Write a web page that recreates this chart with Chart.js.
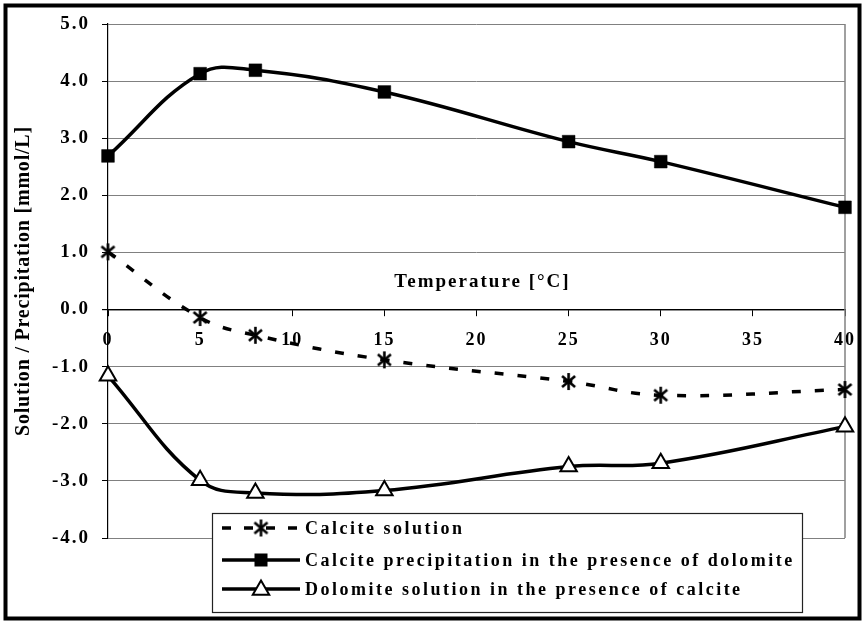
<!DOCTYPE html>
<html>
<head>
<meta charset="utf-8">
<script src="https://cdn.jsdelivr.net/npm/chart.js@4.4.1/dist/chart.umd.min.js"></script>
<style>
  html, body { margin: 0; padding: 0; background: #fff; }
  #wrap { width: 864px; height: 624px; }
</style>
</head>
<body>
<div id="wrap"><canvas id="chart" width="864" height="624"></canvas></div>
<script>
// Temperatures (°C) and the three measured series (mmol/L)
const temperatures = [0, 5, 8, 15, 25, 30, 40];
const calciteSolution = [1.01, -0.14, -0.45, -0.88, -1.26, -1.50, -1.40];
const calcitePrecipitation = [2.69, 4.13, 4.19, 3.81, 2.94, 2.59, 1.79];
const dolomiteSolution = [-1.16, -2.99, -3.21, -3.17, -2.75, -2.69, -2.05];
const seriesNames = [
    'Calcite solution',
    'Calcite precipitation in the presence of dolomite',
    'Dolomite solution in the presence of calcite'
];
const xTicks = [0, 5, 10, 15, 20, 25, 30, 35, 40];
const yTicks = [-4, -3, -2, -1, 0, 1, 2, 3, 4, 5];
const xTitle = 'Temperature [°C]';
const yTitle = 'Solution / Precipitation [mmol/L]';

const FONT = "'Liberation Serif', 'Times New Roman', serif";

// six-armed asterisk marker
function makeAsterisk(size, lw) {
    const c = document.createElement('canvas');
    c.width = c.height = size;
    const g = c.getContext('2d');
    const m = size / 2, r = size / 2 - 1;
    g.strokeStyle = '#000';
    g.lineWidth = lw;
    [90, 40, -40].forEach(deg => {
        const a = deg * Math.PI / 180;
        g.beginPath();
        g.moveTo(m - r * Math.cos(a), m - r * Math.sin(a));
        g.lineTo(m + r * Math.cos(a), m + r * Math.sin(a));
        g.stroke();
    });
    return c;
}
const asterisk = makeAsterisk(19, 2.6);

const toPoints = arr => temperatures.map((t, i) => ({ x: t, y: arr[i] }));

function drawSquare(ctx, x, y) {
    ctx.fillStyle = '#000';
    ctx.fillRect(x - 6.5, y - 6.5, 13, 13);
}
function drawTriangle(ctx, x, y) {
    const r = 9.5;
    ctx.beginPath();
    for (let k = 0; k < 3; k++) {
        const a = k * 2 * Math.PI / 3;
        const px = x + Math.sin(a) * r, py = y - Math.cos(a) * r;
        k ? ctx.lineTo(px, py) : ctx.moveTo(px, py);
    }
    ctx.closePath();
    ctx.fillStyle = '#fff';
    ctx.fill();
    ctx.lineWidth = 2;
    ctx.strokeStyle = '#000';
    ctx.stroke();
}

const decorations = {
    id: 'decorations',
    beforeDraw(chart) {
        const ctx = chart.ctx;
        ctx.save();
        ctx.fillStyle = '#fff';
        ctx.fillRect(0, 0, chart.width, chart.height);
        ctx.restore();
        ctx.letterSpacing = '2px';
    },
    beforeDatasetsDraw(chart) {
        const ctx = chart.ctx;
        const a = chart.chartArea;
        ctx.save();
        // right edge of the plot area
        ctx.strokeStyle = '#808080';
        ctx.lineWidth = 1.5;
        ctx.beginPath();
        ctx.moveTo(a.right, a.top);
        ctx.lineTo(a.right, a.bottom);
        ctx.stroke();

        // axis titles
        ctx.fillStyle = '#000';
        ctx.textAlign = 'center';
        ctx.textBaseline = 'middle';
        ctx.letterSpacing = '2px';
        ctx.font = 'bold 19px ' + FONT;
        ctx.fillText(xTitle, (a.left + a.right) / 2 + 6, 282);

        ctx.letterSpacing = '0.8px';
        ctx.font = 'bold 20px ' + FONT;
        ctx.translate(24, (a.top + a.bottom) / 2);
        ctx.rotate(-Math.PI / 2);
        ctx.fillText(yTitle, 0, 0);
        ctx.restore();
    },
    afterDraw(chart) {
        const ctx = chart.ctx;
        ctx.save();
        // legend box
        const L = 212, T = 513, R = 802, B = 612;
        ctx.fillStyle = '#fff';
        ctx.fillRect(L, T, R - L, B - T);
        ctx.strokeStyle = '#222';
        ctx.lineWidth = 1.2;
        ctx.strokeRect(L + 0.5, T + 0.5, R - L, B - T);

        const rows = [528, 560, 589];
        const x0 = 222, x1 = 300, xm = 261;
        ctx.lineWidth = 3.5;
        ctx.strokeStyle = '#000';
        rows.forEach((y, i) => {
            ctx.save();
            if (i === 0) {
                ctx.setLineDash([9, 13]);
            }
            ctx.beginPath();
            ctx.moveTo(x0, y);
            ctx.lineTo(x1, y);
            ctx.stroke();
            ctx.restore();
            if (i === 0) ctx.drawImage(asterisk, xm - 9.5, y - 9.5);
            if (i === 1) drawSquare(ctx, xm, y);
            if (i === 2) drawTriangle(ctx, xm, y + 1);

            ctx.fillStyle = '#000';
            ctx.textAlign = 'left';
            ctx.textBaseline = 'middle';
            ctx.letterSpacing = '2.5px';
            ctx.font = 'bold 18px ' + FONT;
            ctx.fillText(seriesNames[i], 305, y + 1);
        });

        // outer frame
        ctx.letterSpacing = '0px';
        ctx.strokeStyle = '#000';
        ctx.lineWidth = 4;
        ctx.strokeRect(5.5, 5.5, 854, 613);
        ctx.restore();
    }
};

const ctx = document.getElementById('chart').getContext('2d');
new Chart(ctx, {
    type: 'line',
    data: {
        datasets: [
            {
                label: seriesNames[0],
                data: toPoints(calciteSolution),
                borderColor: '#000',
                borderWidth: 3.5,
                borderDash: [9, 14],
                tension: 0.4,
                clip: false,
                pointStyle: asterisk,
                pointRadius: 9,
                pointHoverRadius: 9
            },
            {
                label: seriesNames[1],
                data: toPoints(calcitePrecipitation),
                borderColor: '#000',
                borderWidth: 3.5,
                tension: 0.4,
                clip: false,
                pointStyle: 'rect',
                pointRadius: 9,
                pointBackgroundColor: '#000',
                pointBorderColor: '#000',
                pointBorderWidth: 0.5
            },
            {
                label: seriesNames[2],
                data: toPoints(dolomiteSolution),
                borderColor: '#000',
                borderWidth: 3.5,
                tension: 0.4,
                clip: false,
                pointStyle: 'triangle',
                pointRadius: 9.5,
                pointBackgroundColor: '#fff',
                pointBorderColor: '#000',
                pointBorderWidth: 2
            }
        ]
    },
    options: {
        responsive: false,
        animation: false,
        events: [],
        layout: { padding: { left: 0, top: 24, right: 19, bottom: 86 } },
        plugins: {
            legend: { display: false },
            tooltip: { enabled: false }
        },
        scales: {
            x: {
                type: 'linear',
                min: 0,
                max: 40,
                position: { y: 0 },
                afterBuildTicks: s => { s.ticks = xTicks.map(v => ({ value: v })); },
                // keep the tick labels from pulling the plot edges inwards
                afterFit: s => { s.paddingLeft = 0; s.paddingRight = 0; },
                ticks: {
                    color: '#000',
                    font: { family: FONT, size: 18, weight: 'bold' },
                    padding: 14,
                    maxRotation: 0,
                    autoSkip: false
                },
                grid: { drawOnChartArea: false, drawTicks: true, tickLength: 6, color: '#000' },
                border: { color: '#000', width: 1.2 }
            },
            y: {
                min: -4,
                max: 5,
                afterBuildTicks: s => { s.ticks = yTicks.map(v => ({ value: v })); },
                afterFit: s => { s.width = 108; },
                ticks: {
                    color: '#000',
                    font: { family: FONT, size: 19, weight: 'bold' },
                    padding: 12,
                    callback: v => v.toFixed(1)
                },
                grid: {
                    color: c => (c.tick && c.tick.value === 0 ? '#000' : '#808080'),
                    lineWidth: c => (c.tick && c.tick.value === 0 ? 1.2 : 1),
                    tickColor: '#000',
                    tickLength: 6
                },
                border: { color: '#000', width: 1.2 }
            }
        }
    },
    plugins: [decorations]
});
</script>
</body>
</html>
